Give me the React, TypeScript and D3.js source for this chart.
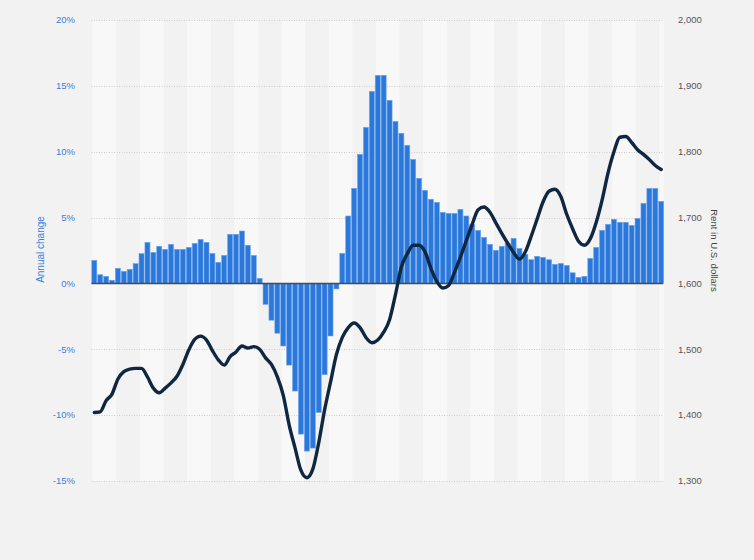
import React from "react";
import * as d3 from "d3";

// Annual change of rent (%) per quarter
const annualChange: number[] = [
  1.75, 0.66, 0.54, 0.24, 1.15, 0.92, 1.07, 1.5, 2.26, 3.12,
  2.36, 2.82, 2.59, 2.97, 2.59, 2.59, 2.74, 3.04, 3.35, 3.12,
  2.28, 1.6, 2.13, 3.73, 3.73, 3.98, 2.9, 2.13, 0.39, -1.59,
  -2.79, -3.78, -4.75, -6.2, -8.17, -11.44, -12.73, -12.5, -9.8, -6.93,
  -3.99, -0.42, 2.28, 5.12, 7.22, 9.8, 11.85, 14.58, 15.8, 15.8,
  13.9, 12.3, 11.4, 10.49, 9.42, 7.98, 7.07, 6.39, 6.16, 5.4,
  5.32, 5.32, 5.63, 5.12, 4.49, 4.03, 3.5, 2.97, 2.51, 2.82,
  3.04, 3.42, 2.66, 2.21, 1.8, 2.06, 1.98, 1.8, 1.45, 1.52,
  1.37, 0.81, 0.46, 0.54, 1.9, 2.74, 4.03, 4.49, 4.87, 4.64,
  4.64, 4.41, 4.94, 6.08, 7.22, 7.22, 6.23,
];

// Rent in U.S. dollars per quarter
const rentUSD: number[] = [
  1404, 1405, 1422, 1432, 1455, 1466, 1470, 1471, 1471, 1458,
  1441, 1434, 1441, 1449, 1459, 1477, 1499, 1515, 1520, 1514,
  1498, 1484, 1476, 1489, 1496, 1505, 1502, 1504, 1500, 1487,
  1477, 1458, 1430, 1385, 1350, 1316, 1305, 1318, 1358, 1408,
  1450, 1492, 1518, 1533, 1540, 1533, 1518, 1510, 1514, 1526,
  1545, 1583, 1625, 1645, 1658, 1658, 1648, 1623, 1603, 1593,
  1597, 1617, 1640, 1665, 1690, 1712, 1716, 1708, 1692, 1676,
  1661, 1647, 1637, 1648, 1672, 1698, 1724, 1740, 1743, 1732,
  1705, 1683, 1664, 1658, 1668, 1693, 1727, 1768, 1800, 1822,
  1823, 1814, 1803, 1796, 1788, 1779, 1773,
];

const periods: string[] = annualChange.map((_, i) => `P${i + 1}`);

const leftTicks: number[] = [-15, -10, -5, 0, 5, 10, 15, 20];
const rightTicks: number[] = [1300, 1400, 1500, 1600, 1700, 1800, 1900, 2000];

const W = 754;
const H = 560;
const plotLeft = 91.5;
const plotRight = 664;
const plotTop = 20;
const plotBottom = 481;

export default function App() {
  const x = d3
    .scaleBand<string>()
    .domain(periods)
    .range([plotLeft, plotRight])
    .paddingInner(0.15)
    .paddingOuter(0.05);
  const yL = d3.scaleLinear().domain([-15, 20]).range([plotBottom, plotTop]);
  const yR = d3.scaleLinear().domain([1300, 2000]).range([plotBottom, plotTop]);

  const step = x.step();
  const bandStart = (i: number) => plotLeft + step * i * 1 + 1;
  const bands: number[] = d3.range(0, periods.length, 8);

  const line = d3
    .line<number>()
    .x((_, i) => (x(periods[i]) as number) + x.bandwidth() / 2)
    .y((d) => yR(d))
    .curve(d3.curveMonotoneX);

  const blue = "#2a78dc";
  const fontFamily = "'Liberation Sans', Arial, sans-serif";

  return (
    <div style={{ position: "fixed", left: 0, top: 0, width: W, height: H }}>
      <svg width={W} height={H} style={{ display: "block", background: "#f2f2f2" }}>
        {bands.map((i) => {
          const x0 = bandStart(i);
          const x1 = Math.min(bandStart(i + 4), plotRight);
          return (
            <rect key={`b${i}`} x={x0} y={plotTop} width={x1 - x0} height={plotBottom - plotTop} fill="#f8f8f8" />
          );
        })}
        {leftTicks.map((t) => (
          <line
            key={`g${t}`}
            x1={plotLeft}
            x2={plotRight}
            y1={Math.round(yL(t)) + 0.5}
            y2={Math.round(yL(t)) + 0.5}
            stroke="#cfcfcf"
            strokeDasharray="1 1.5"
          />
        ))}
        {annualChange.map((v, i) => {
          const y0 = yL(0);
          const y1 = yL(v);
          return (
            <rect
              key={`r${i}`}
              x={x(periods[i]) as number}
              y={Math.min(y0, y1)}
              width={x.bandwidth()}
              height={Math.abs(y1 - y0)}
              fill={blue}
              stroke="#6ea4ea"
              strokeWidth={0.6}
            />
          );
        })}
        <line x1={plotLeft} x2={plotRight - 1} y1={yL(0)} y2={yL(0)} stroke="#4a4a4a" strokeWidth={1.6} />
        <path d={line(rentUSD) || ""} fill="none" stroke="#0f2741" strokeWidth={3.4} strokeLinejoin="round" strokeLinecap="round" />
        {leftTicks.map((t) => (
          <text
            key={`lt${t}`}
            x={75}
            y={yL(t)}
            dy="0.35em"
            textAnchor="end"
            fontSize={9.5}
            fontFamily={fontFamily}
            fill="#3a7fdc"
          >
            {`${t}%`}
          </text>
        ))}
        {rightTicks.map((t) => (
          <text
            key={`rt${t}`}
            x={678}
            y={yR(t)}
            dy="0.35em"
            textAnchor="start"
            fontSize={9.5}
            fontFamily={fontFamily}
            fill="#555555"
          >
            {d3.format(",")(t)}
          </text>
        ))}
        <text
          transform={`translate(40,${(plotTop + plotBottom) / 2 - 1}) rotate(-90)`}
          textAnchor="middle"
          dy="0.35em"
          fontSize={10}
          fontFamily={fontFamily}
          fill="#3a7fdc"
        >
          Annual change
        </text>
        <text
          transform={`translate(714,${(plotTop + plotBottom) / 2}) rotate(90)`}
          textAnchor="middle"
          dy="0.35em"
          fontSize={9.6}
          fontFamily={fontFamily}
          fill="#444444"
        >
          Rent in U.S. dollars
        </text>
      </svg>
    </div>
  );
}
